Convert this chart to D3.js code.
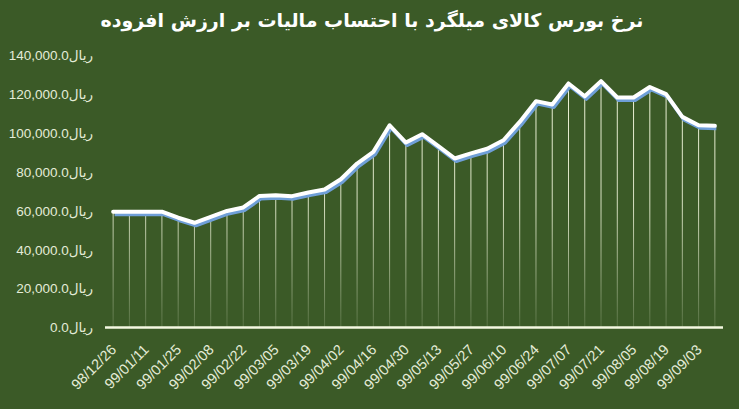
<!DOCTYPE html>
<html>
<head>
<meta charset="utf-8">
<script src="https://cdn.jsdelivr.net/npm/d3@7"></script>
<style>
  html, body { margin: 0; padding: 0; background: #3b5a27; }
  svg { display: block; }
</style>
</head>
<body>
<div id="chart"></div>
<script>
// weekly dates (every other one is shown on the axis)
const dates = [
  "98/12/26", "99/01/04", "99/01/11", "99/01/18", "99/01/25", "99/02/01",
  "99/02/08", "99/02/15", "99/02/22", "99/02/29", "99/03/05", "99/03/12",
  "99/03/19", "99/03/26", "99/04/02", "99/04/09", "99/04/16", "99/04/23",
  "99/04/30", "99/05/06", "99/05/13", "99/05/20", "99/05/27", "99/06/03",
  "99/06/10", "99/06/17", "99/06/24", "99/06/31", "99/07/07", "99/07/14",
  "99/07/21", "99/07/28", "99/08/05", "99/08/12", "99/08/19", "99/08/26",
  "99/09/03", "99/09/10"
];

const prices = [
  59600, 59600, 59600, 59600, 56500, 53900, 56900, 60000, 61800, 67700,
  68100, 67600, 69500, 71000, 76300, 84400, 90400, 104100, 95200, 99500,
  93300, 87000, 89600, 92000, 96400, 105800, 116500, 114800, 125600, 119000,
  126800, 118400, 118400, 123800, 120100, 108400, 104100, 103800
];

const yTicks = [0, 20000, 40000, 60000, 80000, 100000, 120000, 140000];

const title = "نرخ بورس کالای میلگرد با احتساب مالیات بر ارزش افزوده";

let areaWidth = 739;
let areaHeight = 409;
let border = { top: 55.5, bottom: 327.5, left: 105, right: 723 };

let svg = d3.select("#chart")
  .append("svg")
  .attr("width", areaWidth)
  .attr("height", areaHeight);

svg.append("rect")
  .attr("width", areaWidth)
  .attr("height", areaHeight)
  .attr("fill", "#3b5a27");

let xBand = d3.scaleBand().domain(dates).range([border.left, border.right]);
let yLinear = d3.scaleLinear().domain([0, 140000]).range([border.bottom, border.top]);
let xc = d => xBand(d) + xBand.bandwidth() / 2;

// fading drop lines
let defs = svg.append("defs");
let grad = defs.append("linearGradient")
  .attr("id", "dropFade")
  .attr("gradientUnits", "userSpaceOnUse")
  .attr("x1", 0).attr("x2", 0)
  .attr("y1", border.top).attr("y2", border.bottom);
grad.append("stop").attr("offset", "0%").attr("stop-color", "#f2f7dc").attr("stop-opacity", 1);
grad.append("stop").attr("offset", "55%").attr("stop-color", "#f2f7dc").attr("stop-opacity", 0.85);
grad.append("stop").attr("offset", "100%").attr("stop-color", "#f2f7dc").attr("stop-opacity", 0.15);

svg.append("g")
  .selectAll("line")
  .data(dates)
  .enter().append("line")
  .attr("x1", d => xc(d)).attr("x2", d => xc(d))
  .attr("y1", (d, i) => yLinear(prices[i]))
  .attr("y2", border.bottom)
  .attr("stroke", "url(#dropFade)")
  .attr("stroke-width", 1);

// baseline
svg.append("line")
  .attr("x1", border.left).attr("x2", border.right)
  .attr("y1", border.bottom).attr("y2", border.bottom)
  .attr("stroke", "#f4f8e2")
  .attr("stroke-width", 2.5);

let line = d3.line()
  .x((d, i) => xc(dates[i]))
  .y(d => yLinear(d));

// blue shadow then white line
svg.append("path")
  .datum(prices)
  .attr("d", line)
  .attr("transform", "translate(1.5,2.5)")
  .attr("fill", "none")
  .attr("stroke", "#6f9fd8")
  .attr("stroke-width", 4)
  .attr("stroke-linejoin", "round");

svg.append("path")
  .datum(prices)
  .attr("d", line)
  .attr("fill", "none")
  .attr("stroke", "#ffffff")
  .attr("stroke-width", 4)
  .attr("stroke-linejoin", "round")
  .attr("stroke-linecap", "round");

// y axis labels
let yAx = svg.append("g")
  .attr("transform", "translate(93,0)")
  .call(d3.axisLeft(yLinear).tickValues(yTicks).tickSize(0).tickPadding(0)
    .tickFormat(v => d3.format(",.1f")(v) + "ریال"));
yAx.select(".domain").remove();
yAx.selectAll("text")
  .attr("fill", "#e4ecd8")
  .attr("font-size", "13.5px")
  .attr("font-family", "Liberation Sans, DejaVu Sans, sans-serif");

// x axis labels
let shown = dates.filter((d, i) => i % 2 === 0);
let xAx = svg.append("g")
  .attr("transform", `translate(0,${border.bottom})`)
  .call(d3.axisBottom(xBand).tickValues(shown).tickSize(0).tickPadding(0));
xAx.select(".domain").remove();
xAx.selectAll("text")
  .attr("fill", "#e4ecd8")
  .attr("font-size", "14.5px")
  .attr("font-family", "Liberation Sans, sans-serif")
  .attr("text-anchor", "end")
  .attr("dy", "0")
  .attr("transform", "translate(4,23) rotate(-45)");

// title
svg.append("text")
  .attr("x", 372)
  .attr("y", 27)
  .attr("text-anchor", "middle")
  .attr("fill", "#ffffff")
  .attr("font-size", "19px")
  .attr("font-weight", "bold")
  .attr("font-family", "DejaVu Sans, sans-serif")
  .text(title);
</script>
</body>
</html>
